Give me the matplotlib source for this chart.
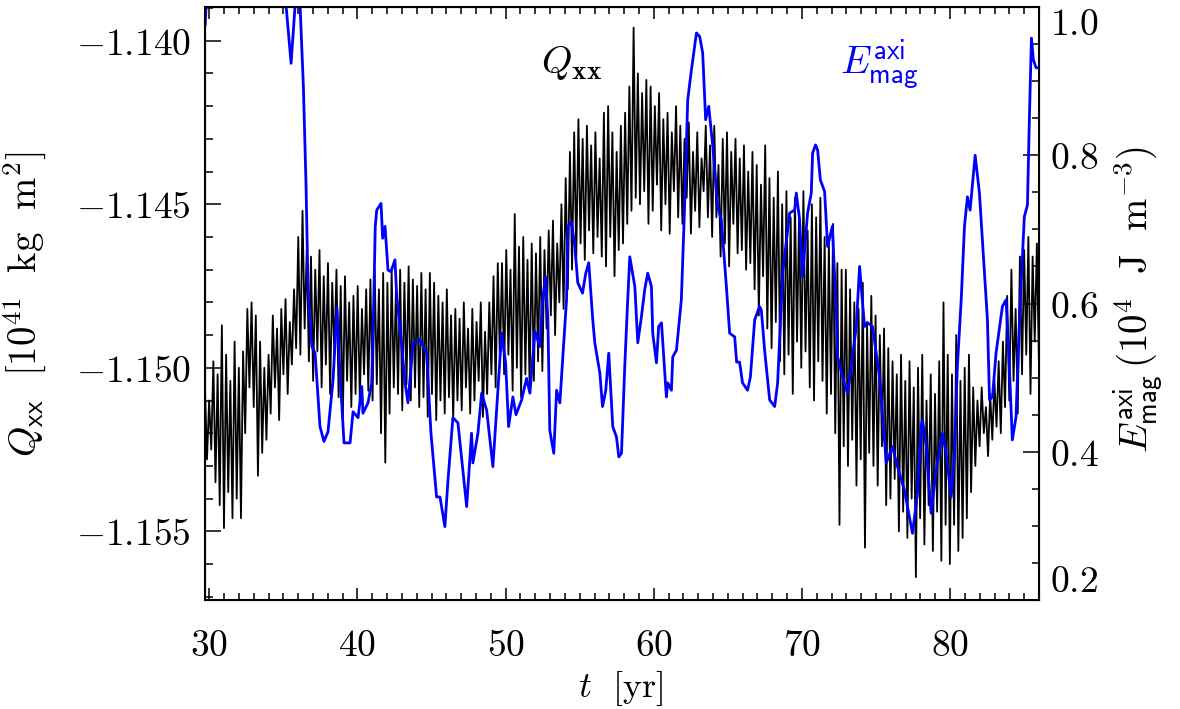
import numpy as np
import matplotlib
matplotlib.use("Agg")
import matplotlib.pyplot as plt
from matplotlib.ticker import MultipleLocator

plt.rcParams['mathtext.fontset'] = 'cm'

# Q_xx [1e41 kg m^2], sampled evenly from t_start to t_end
t_start, t_end = 29.7, 86.0
qxx = [
    -1.1505, -1.1528, -1.1510, -1.1525, -1.1498, -1.1535, -1.1502,
    -1.1542, -1.1487, -1.1549, -1.1496, -1.1538, -1.1504, -1.1546,
    -1.1492, -1.1540, -1.1500, -1.1546, -1.1495, -1.1520, -1.1482,
    -1.1506, -1.1480, -1.1512, -1.1484, -1.1533, -1.1492, -1.1526,
    -1.1500, -1.1522, -1.1496, -1.1514, -1.1484, -1.1506, -1.1488,
    -1.1516, -1.1482, -1.1502, -1.1479, -1.1508, -1.1486, -1.1499,
    -1.1476, -1.1494, -1.1460, -1.1496, -1.1452, -1.1488, -1.1464,
    -1.1498, -1.1466, -1.1504, -1.1470, -1.1495, -1.1464, -1.1506,
    -1.1472, -1.1499, -1.1468, -1.1508, -1.1474, -1.1496, -1.1470,
    -1.1509, -1.1475, -1.1516, -1.1472, -1.1504, -1.1480, -1.1512,
    -1.1478, -1.1508, -1.1475, -1.1510, -1.1482, -1.1502, -1.1476,
    -1.1507, -1.1473, -1.1510, -1.1470, -1.1505, -1.1476, -1.1520,
    -1.1471, -1.1529, -1.1474, -1.1514, -1.1470, -1.1506, -1.1476,
    -1.1508, -1.1470, -1.1513, -1.1474, -1.1505, -1.1469, -1.1510,
    -1.1473, -1.1506, -1.1475, -1.1512, -1.1471, -1.1509, -1.1476,
    -1.1515, -1.1471, -1.1508, -1.1474, -1.1516, -1.1478, -1.1510,
    -1.1480, -1.1514, -1.1476, -1.1509, -1.1484, -1.1516, -1.1482,
    -1.1510, -1.1485, -1.1513, -1.1480, -1.1506, -1.1488, -1.1514,
    -1.1482, -1.1510, -1.1486, -1.1504, -1.1480, -1.1515, -1.1489,
    -1.1508, -1.1480, -1.1502, -1.1472, -1.1506, -1.1468, -1.1498,
    -1.1468, -1.1502, -1.1464, -1.1496, -1.1470, -1.1507, -1.1453,
    -1.1500, -1.1463, -1.1509, -1.1460, -1.1502, -1.1467, -1.1506,
    -1.1462, -1.1504, -1.1465, -1.1498, -1.1460, -1.1501, -1.1464,
    -1.1488, -1.1458, -1.1484, -1.1455, -1.1490, -1.1462, -1.1480,
    -1.1450, -1.1482, -1.1442, -1.1476, -1.1434, -1.1470, -1.1428,
    -1.1466, -1.1424, -1.1462, -1.1430, -1.1467, -1.1426, -1.1458,
    -1.1432, -1.1465, -1.1428, -1.1460, -1.1436, -1.1466, -1.1422,
    -1.1469, -1.1420, -1.1460, -1.1428, -1.1472, -1.1434, -1.1464,
    -1.1426, -1.1462, -1.1422, -1.1456, -1.1414, -1.1452, -1.1396,
    -1.1448, -1.1410, -1.1450, -1.1416, -1.1446, -1.1412, -1.1456,
    -1.1414, -1.1452, -1.1420, -1.1444, -1.1416, -1.1458, -1.1424,
    -1.1450, -1.1422, -1.1459, -1.1428, -1.1446, -1.1420, -1.1454,
    -1.1426, -1.1456, -1.1430, -1.1448, -1.1425, -1.1459, -1.1434,
    -1.1452, -1.1428, -1.1457, -1.1436, -1.1446, -1.1426, -1.1454,
    -1.1432, -1.1460, -1.1426, -1.1454, -1.1438, -1.1466, -1.1430,
    -1.1462, -1.1428, -1.1469, -1.1434, -1.1456, -1.1430, -1.1465,
    -1.1436, -1.1464, -1.1432, -1.1470, -1.1440, -1.1468, -1.1434,
    -1.1476, -1.1438, -1.1484, -1.1444, -1.1472, -1.1432, -1.1488,
    -1.1442, -1.1494, -1.1448, -1.1486, -1.1440, -1.1498, -1.1450,
    -1.1502, -1.1446, -1.1496, -1.1454, -1.1508, -1.1448, -1.1492,
    -1.1452, -1.1500, -1.1446, -1.1495, -1.1458, -1.1506, -1.1450,
    -1.1510, -1.1454, -1.1498, -1.1448, -1.1504, -1.1460, -1.1514,
    -1.1462, -1.1508, -1.1456, -1.1520, -1.1468, -1.1548, -1.1470,
    -1.1524, -1.1470, -1.1530, -1.1476, -1.1522, -1.1480, -1.1536,
    -1.1482, -1.1528, -1.1474, -1.1555, -1.1486, -1.1526, -1.1478,
    -1.1530, -1.1484, -1.1536, -1.1490, -1.1524, -1.1488, -1.1542,
    -1.1494, -1.1540, -1.1498, -1.1534, -1.1502, -1.1550, -1.1496,
    -1.1544, -1.1504, -1.1552, -1.1498, -1.1540, -1.1506, -1.1564,
    -1.1500, -1.1546, -1.1496, -1.1554, -1.1510, -1.1542, -1.1502,
    -1.1556, -1.1508, -1.1544, -1.1498, -1.1559, -1.1480, -1.1548,
    -1.1496, -1.1560, -1.1502, -1.1548, -1.1490, -1.1556, -1.1504,
    -1.1552, -1.1500, -1.1546, -1.1496, -1.1538, -1.1506, -1.1530,
    -1.1510, -1.1524, -1.1506, -1.1520, -1.1512, -1.1527, -1.1508,
    -1.1522, -1.1504, -1.1518, -1.1498, -1.1520, -1.1492, -1.1512,
    -1.1478, -1.1510, -1.1470, -1.1504, -1.1482, -1.1514, -1.1466,
    -1.1502, -1.1464, -1.1496, -1.1460, -1.1508, -1.1466, -1.1492,
    -1.1462, -1.1500,
]

# E_mag^axi [1e4 J m^-3]
emag_t = [
    29.72, 29.90, 35.10, 35.52, 35.85, 36.13, 36.35, 36.53, 36.67, 36.92,
    37.14, 37.47, 37.74, 38.01, 38.35, 38.62, 38.82, 39.09, 39.50, 39.70,
    40.04, 40.29, 40.37, 40.71, 40.96, 41.10, 41.20, 41.30, 41.59, 41.70,
    41.86, 42.06, 42.26, 42.53, 42.65, 42.87, 43.21, 43.41, 43.75, 44.22,
    44.67, 44.96, 45.34, 45.57, 45.90, 46.11, 46.44, 46.78, 47.37, 47.70,
    47.79, 48.13, 48.38, 48.72, 49.14, 49.73, 50.00, 50.20, 50.49, 50.70,
    51.08, 51.41, 51.64, 51.97, 52.31, 52.50, 52.69, 52.85, 52.98, 53.25,
    53.44, 53.66, 54.11, 54.20, 54.45, 54.67, 54.87, 55.19, 55.41, 55.61,
    55.88, 56.02, 56.36, 56.54, 56.76, 56.96, 57.23, 57.48, 57.64, 57.82,
    58.04, 58.24, 58.38, 58.72, 58.92, 59.17, 59.39, 59.59, 59.84, 59.93,
    60.18, 60.33, 60.52, 60.85, 60.94, 61.19, 61.28, 61.53, 61.86, 62.08,
    62.29, 62.54, 62.88, 63.10, 63.30, 63.50, 63.71, 63.98, 64.31, 64.56,
    64.90, 65.12, 65.46, 65.59, 65.79, 65.99, 66.33, 66.52, 66.81, 67.14,
    67.26, 67.48, 67.82, 68.16, 68.36, 68.61, 68.70, 69.17, 69.51, 69.62,
    69.84, 70.04, 70.38, 70.63, 70.72, 70.92, 71.06, 71.24, 71.53, 71.73,
    72.05, 72.32, 72.41, 72.74, 73.08, 73.33, 73.67, 73.89, 74.09, 74.23,
    74.43, 74.76, 75.24, 75.69, 76.11, 76.45, 76.92, 77.46, 77.80, 78.05,
    78.14, 78.39, 78.72, 79.06, 79.48, 79.73, 80.07, 80.29, 80.49, 80.75,
    80.97, 81.17, 81.35, 81.69, 81.98, 82.52, 82.66, 82.86, 83.10, 83.53,
    83.78, 84.00, 84.20, 84.45, 84.68, 85.01, 85.22, 85.35, 85.49, 85.62,
    85.80, 85.95,
]
emag = [
    0.976, 1.05, 1.02, 0.924, 1.02, 1.00, 0.892, 0.758, 0.614, 0.542,
    0.533, 0.434, 0.414, 0.427, 0.497, 0.594, 0.506, 0.412, 0.412, 0.454,
    0.446, 0.488, 0.452, 0.466, 0.493, 0.605, 0.704, 0.726, 0.735, 0.688,
    0.704, 0.645, 0.643, 0.659, 0.609, 0.569, 0.493, 0.466, 0.547, 0.551,
    0.533, 0.425, 0.339, 0.339, 0.299, 0.362, 0.446, 0.439, 0.326, 0.425,
    0.385, 0.425, 0.479, 0.456, 0.380, 0.560, 0.520, 0.434, 0.474, 0.450,
    0.470, 0.499, 0.479, 0.563, 0.542, 0.605, 0.636, 0.580, 0.429, 0.398,
    0.483, 0.466, 0.605, 0.704, 0.710, 0.677, 0.628, 0.614, 0.641, 0.655,
    0.578, 0.547, 0.506, 0.461, 0.483, 0.533, 0.434, 0.420, 0.393, 0.398,
    0.515, 0.605, 0.663, 0.623, 0.547, 0.583, 0.619, 0.641, 0.623, 0.560,
    0.520, 0.569, 0.574, 0.474, 0.493, 0.483, 0.528, 0.537, 0.605, 0.731,
    0.875, 0.915, 0.965, 0.960, 0.938, 0.848, 0.866, 0.812, 0.731, 0.713,
    0.623, 0.560, 0.555, 0.521, 0.521, 0.493, 0.483, 0.501, 0.578, 0.596,
    0.591, 0.537, 0.470, 0.461, 0.493, 0.605, 0.641, 0.722, 0.726, 0.749,
    0.713, 0.636, 0.722, 0.749, 0.803, 0.814, 0.807, 0.767, 0.751, 0.677,
    0.704, 0.587, 0.528, 0.501, 0.479, 0.515, 0.569, 0.650, 0.601, 0.569,
    0.574, 0.569, 0.501, 0.385, 0.407, 0.380, 0.348, 0.290, 0.344, 0.434,
    0.443, 0.407, 0.317, 0.375, 0.425, 0.398, 0.339, 0.393, 0.515, 0.605,
    0.704, 0.744, 0.726, 0.800, 0.749, 0.578, 0.470, 0.474, 0.533, 0.596,
    0.605, 0.515, 0.416, 0.447, 0.578, 0.717, 0.733, 0.848, 0.958, 0.929,
    0.918, 0.918,
]

x_ticks = [30, 40, 50, 60, 70, 80]
q_ticks = [-1.155, -1.150, -1.145, -1.140]
e_ticks = [0.2, 0.4, 0.6, 0.8, 1.0]

t_q = np.linspace(t_start, t_end, len(qxx))

fig = plt.figure(figsize=(11.8, 7.09), dpi=100)
ax = fig.add_axes([0.1735, 0.1537, 0.707, 0.8364])
ax.plot(t_q, qxx, color='black', lw=1.3)
ax.set_xlim(29.69, 86.0)
ax.set_ylim(-1.1571, -1.13897)

ax.set_xticks(x_ticks)
ax.set_xticklabels([f'${v}$' for v in x_ticks])
ax.xaxis.set_minor_locator(MultipleLocator(1))
ax.set_yticks(q_ticks)
ax.set_yticklabels([f'${v:.3f}$' for v in q_ticks])
ax.yaxis.set_minor_locator(MultipleLocator(0.001))

ax.tick_params(which='both', direction='in', top=True, right=True, width=1.1)
ax.tick_params(axis='y', which='major', length=11.5, pad=10, labelsize=27)
ax.tick_params(axis='y', which='minor', length=6)
ax.tick_params(axis='x', which='major', length=8.5, pad=20, labelsize=27)
ax.tick_params(axis='x', which='minor', length=5)
for s in ax.spines.values():
    s.set_linewidth(1.5)

ax.set_xlabel(r'$t\ \ [\mathrm{yr}]$', fontsize=26, va='center')
ax.xaxis.set_label_coords(0.498, -0.149)
ax.set_ylabel(r'$Q_{\mathsf{xx}}\ \ [10^{41}\ \ \mathrm{kg}\ \ \mathrm{m}^2]$', fontsize=28, va='center')
ax.yaxis.set_label_coords(-0.215, 0.50)

ax.text(0.44, 0.906, r'$Q_{\mathbf{xx}}$', transform=ax.transAxes,
        fontsize=28, ha='center', va='center')

ax2 = ax.twinx()
ax2.plot(emag_t, emag, color='#0000ff', lw=2.0)
ax2.set_ylim(0.2, 1.0)
ax2.set_yticks(e_ticks)
ax2.set_yticklabels([f'${v:.1f}$' for v in e_ticks])
ax2.yaxis.set_minor_locator(MultipleLocator(0.05))
ax2.tick_params(which='both', direction='in', width=1.1)
ax2.tick_params(which='major', length=11.5, pad=8, labelsize=27)
ax2.tick_params(which='minor', length=5)
lbls = ax2.get_yticklabels()
lbls[0].set_va('bottom')
lbls[-1].set_va('top')
ax2.set_ylabel(r'$E^{\mathsf{axi}}_{\mathsf{mag}}\,(10^4\ \ \mathrm{J}\ \ \mathrm{m}^{-3})$',
               fontsize=28, va='center', rotation=90)
ax2.yaxis.set_label_coords(1.119, 0.506)

ax2.text(0.809, 0.902, r'$E^{\mathsf{axi}}_{\mathsf{mag}}$', transform=ax.transAxes,
         fontsize=28, color='#0000ff', ha='center', va='center')

fig.savefig('out.png', dpi=100)
